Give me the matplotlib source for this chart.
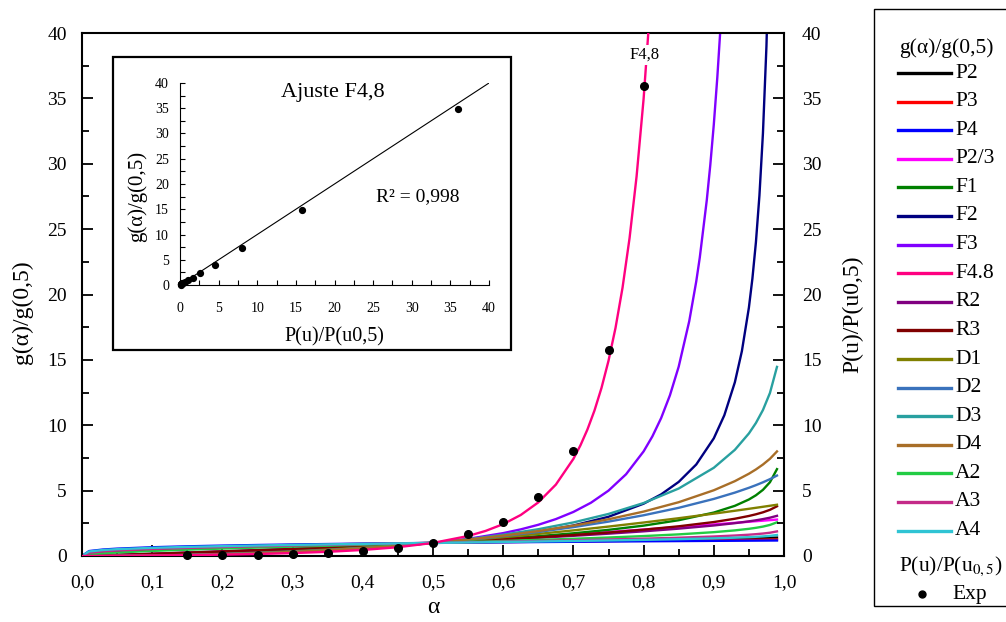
import matplotlib
matplotlib.use("Agg")
import matplotlib.pyplot as plt
from matplotlib.patches import Rectangle
from matplotlib.ticker import MultipleLocator, FixedLocator, FixedFormatter

plt.rcParams['font.family'] = ['Liberation Serif', 'DejaVu Serif']
plt.rcParams['mathtext.fontset'] = 'stix'

# ---------------- data ----------------
alpha = [0.0, 0.01, 0.03, 0.05, 0.1, 0.15, 0.2, 0.25, 0.3, 0.35, 0.4, 0.45, 0.5,
         0.55, 0.6, 0.65, 0.7, 0.75, 0.8, 0.85, 0.9, 0.93, 0.95, 0.96, 0.97, 0.98, 0.99]

P2 = [0, 0.141, 0.245, 0.316, 0.447, 0.548, 0.632, 0.707, 0.775, 0.837, 0.894, 0.949, 1.0,
      1.049, 1.095, 1.140, 1.183, 1.225, 1.265, 1.304, 1.342, 1.364, 1.378, 1.386, 1.393, 1.400, 1.407]
P3 = [0, 0.271, 0.391, 0.464, 0.585, 0.669, 0.737, 0.794, 0.843, 0.888, 0.928, 0.965, 1.0,
      1.032, 1.063, 1.091, 1.119, 1.145, 1.170, 1.193, 1.216, 1.230, 1.239, 1.243, 1.247, 1.252, 1.256]
P4 = [0, 0.376, 0.495, 0.562, 0.669, 0.740, 0.795, 0.841, 0.880, 0.915, 0.946, 0.974, 1.0,
      1.024, 1.046, 1.068, 1.088, 1.107, 1.125, 1.142, 1.158, 1.168, 1.174, 1.177, 1.180, 1.183, 1.186]
P23 = [0, 0.003, 0.015, 0.032, 0.089, 0.164, 0.253, 0.354, 0.465, 0.586, 0.716, 0.854, 1.0,
       1.154, 1.315, 1.482, 1.657, 1.837, 2.024, 2.217, 2.415, 2.537, 2.618, 2.660, 2.701, 2.744, 2.786]
F1 = [0, 0.0145, 0.044, 0.074, 0.152, 0.234, 0.322, 0.415, 0.515, 0.621, 0.737, 0.862, 1.0,
      1.152, 1.322, 1.515, 1.737, 2.0, 2.322, 2.737, 3.322, 3.837, 4.322, 4.644, 5.059, 5.644, 6.644]
R2 = [0, 0.017, 0.052, 0.087, 0.175, 0.267, 0.361, 0.457, 0.558, 0.662, 0.770, 0.882, 1.0,
      1.124, 1.255, 1.394, 1.544, 1.707, 1.887, 2.092, 2.335, 2.511, 2.651, 2.731, 2.823, 2.931, 3.073]
R3 = [0, 0.016, 0.049, 0.082, 0.167, 0.256, 0.348, 0.443, 0.543, 0.648, 0.759, 0.876, 1.0,
      1.133, 1.276, 1.431, 1.602, 1.794, 2.013, 2.272, 2.597, 2.850, 3.062, 3.190, 3.341, 3.532, 3.803]
D1 = [0, 0.0004, 0.0036, 0.01, 0.04, 0.09, 0.16, 0.25, 0.36, 0.49, 0.64, 0.81, 1.0,
      1.21, 1.44, 1.69, 1.96, 2.25, 2.56, 2.89, 3.24, 3.46, 3.61, 3.686, 3.764, 3.842, 3.920]
D2 = [0, 0.0003, 0.003, 0.008, 0.034, 0.077, 0.140, 0.223, 0.328, 0.456, 0.610, 0.790, 1.0,
      1.243, 1.522, 1.842, 2.208, 2.630, 3.116, 3.685, 4.365, 4.848, 5.216, 5.418, 5.637, 5.878, 6.153]
D3 = [0, 0.0003, 0.0024, 0.0068, 0.028, 0.065, 0.121, 0.196, 0.295, 0.420, 0.576, 0.767, 1.0,
      1.283, 1.628, 2.049, 2.568, 3.217, 4.051, 5.161, 6.747, 8.120, 9.373, 10.174, 11.164, 12.472, 14.463]
D4 = [0, 0.0003, 0.0028, 0.0077, 0.032, 0.073, 0.133, 0.214, 0.317, 0.444, 0.598, 0.782, 1.0,
      1.256, 1.556, 1.908, 2.321, 2.810, 3.397, 4.114, 5.028, 5.725, 6.292, 6.621, 6.996, 7.437, 7.998]
A2 = [0, 0.120, 0.210, 0.272, 0.390, 0.484, 0.567, 0.644, 0.718, 0.788, 0.859, 0.929, 1.0,
      1.073, 1.150, 1.231, 1.318, 1.414, 1.524, 1.654, 1.823, 1.959, 2.079, 2.155, 2.249, 2.376, 2.578]
A3 = [0, 0.244, 0.353, 0.420, 0.534, 0.617, 0.685, 0.746, 0.801, 0.853, 0.903, 0.952, 1.0,
      1.048, 1.098, 1.149, 1.202, 1.260, 1.324, 1.399, 1.492, 1.566, 1.629, 1.669, 1.717, 1.781, 1.880]
A4 = [0, 0.347, 0.458, 0.522, 0.624, 0.696, 0.753, 0.803, 0.847, 0.888, 0.927, 0.964, 1.0,
      1.036, 1.072, 1.110, 1.148, 1.189, 1.234, 1.286, 1.350, 1.400, 1.442, 1.468, 1.500, 1.541, 1.606]

alpha_F2 = [0, 0.05, 0.1, 0.15, 0.2, 0.25, 0.3, 0.35, 0.4, 0.45, 0.5, 0.55, 0.6, 0.65, 0.7, 0.75,
            0.8, 0.825, 0.85, 0.875, 0.9, 0.915, 0.93, 0.94, 0.95, 0.955, 0.96, 0.965, 0.97, 0.975, 0.98]
F2 = [0, 0.053, 0.111, 0.176, 0.25, 0.333, 0.429, 0.538, 0.667, 0.818, 1.0, 1.222, 1.5, 1.857, 2.333,
      3.0, 4.0, 4.714, 5.667, 7.0, 9.0, 10.765, 13.286, 15.667, 19.0, 21.222, 24.0, 27.571, 32.333,
      39.0, 49.0]

alpha_F3 = [0, 0.05, 0.1, 0.15, 0.2, 0.25, 0.3, 0.35, 0.4, 0.45, 0.5, 0.55, 0.6, 0.625, 0.65, 0.675,
            0.7, 0.725, 0.75, 0.775, 0.8, 0.8125, 0.825, 0.8375, 0.85, 0.865, 0.875, 0.88, 0.89, 0.895,
            0.9, 0.905, 0.91, 0.915]
F3 = [0, 0.036, 0.078, 0.128, 0.188, 0.259, 0.347, 0.456, 0.593, 0.769, 1.0, 1.313, 1.75, 2.037,
      2.388, 2.822, 3.370, 4.074, 5.0, 6.251, 8.0, 9.148, 10.551, 12.290, 14.481, 17.957, 21.0,
      22.815, 27.215, 29.901, 33.0, 36.601, 40.819, 45.803]

alpha_F48 = [0, 0.05, 0.1, 0.15, 0.2, 0.25, 0.3, 0.35, 0.4, 0.45, 0.5, 0.55, 0.575, 0.6, 0.625, 0.65,
             0.675, 0.7, 0.71, 0.72, 0.73, 0.74, 0.75, 0.76, 0.77, 0.78, 0.79, 0.8, 0.81]
F48 = [0, 0.017, 0.038, 0.066, 0.103, 0.153, 0.223, 0.320, 0.462, 0.673, 1.0, 1.530, 1.920, 2.438,
       3.137, 4.101, 5.460, 7.428, 8.460, 9.678, 11.123, 12.851, 14.929, 17.447, 20.523, 24.314,
       29.030, 34.960, 42.499]

alpha_exp = [0.15, 0.2, 0.25, 0.3, 0.35, 0.4, 0.45, 0.5, 0.55, 0.6, 0.65, 0.7, 0.75, 0.8]
exp_vals = [0.10, 0.10, 0.11, 0.15, 0.23, 0.38, 0.62, 1.0, 1.70, 2.63, 4.50, 8.05, 15.75, 35.95]

# inset: P(u)/P(u0,5) (x) vs g(alpha)/g(0,5) for F4,8 (y)
inset_x = exp_vals
inset_y = [0.07, 0.10, 0.15, 0.22, 0.32, 0.46, 0.67, 1.0, 1.45, 2.35, 4.0, 7.25, 14.85, 34.85]
fit_slope = 1.0
fit_intercept = 0.0
fit_range = [0, 40]

x_ticks = [0.0, 0.1, 0.2, 0.3, 0.4, 0.5, 0.6, 0.7, 0.8, 0.9, 1.0]
x_tick_labels = ["0,0", "0,1", "0,2", "0,3", "0,4", "0,5", "0,6", "0,7", "0,8", "0,9", "1,0"]

series = [
    ("P2", alpha, P2, "#000000"),
    ("P3", alpha, P3, "#ff0000"),
    ("P4", alpha, P4, "#0000ff"),
    ("P2/3", alpha, P23, "#ff00ff"),
    ("F1", alpha, F1, "#008000"),
    ("F2", alpha_F2, F2, "#000080"),
    ("F3", alpha_F3, F3, "#8000ff"),
    ("F4.8", alpha_F48, F48, "#ff0080"),
    ("R2", alpha, R2, "#800080"),
    ("R3", alpha, R3, "#800000"),
    ("D1", alpha, D1, "#808000"),
    ("D2", alpha, D2, "#3a72bc"),
    ("D3", alpha, D3, "#28a0a0"),
    ("D4", alpha, D4, "#a86e28"),
    ("A2", alpha, A2, "#22cc44"),
    ("A3", alpha, A3, "#c42a88"),
    ("A4", alpha, A4, "#30c4d4"),
]

# ---------------- figure ----------------
W, H = 1006, 622
fig = plt.figure(figsize=(W / 100, H / 100), dpi=100)

ax = fig.add_axes([82 / W, 1 - 556 / H, (784 - 82) / W, (556 - 33) / H], zorder=1)
for name, xs, ys, col in series:
    z = 3 if name == "F4.8" else 2
    ax.plot(xs, ys, color=col, lw=1.7, zorder=z, solid_joinstyle='round')
ax.plot(alpha_exp, exp_vals, 'o', color='black', ms=5.5, zorder=5, clip_on=False)

ax.set_xlim(0, 1)
ax.set_ylim(0, 40)
ax.xaxis.set_major_locator(FixedLocator(x_ticks))
ax.xaxis.set_major_formatter(FixedFormatter(x_tick_labels))
ax.xaxis.set_minor_locator(MultipleLocator(0.05))
ax.yaxis.set_major_locator(MultipleLocator(5))
ax.yaxis.set_minor_locator(MultipleLocator(2.5))
ax.tick_params(which='both', direction='in', top=False, right=False,
               width=1.3, labelsize=14, colors='black')
ax.tick_params(which='major', length=8)
ax.tick_params(which='minor', length=5)
ax.tick_params(axis='y', pad=11)
ax.tick_params(axis='x', pad=13)
for sp in ax.spines.values():
    sp.set_linewidth(1.5)
ax.set_xlabel("α", fontsize=17, labelpad=4)
ax.set_ylabel("g(α)/g(0,5)", fontsize=17)
ax.yaxis.set_label_coords(-0.07, 0.4665)

ax2 = ax.twinx()
ax2.set_ylim(0, 40)
ax2.yaxis.set_major_locator(MultipleLocator(5))
ax2.yaxis.set_minor_locator(MultipleLocator(2.5))
ax2.tick_params(which='both', direction='in', width=1.3, labelsize=14, pad=13)
ax2.tick_params(which='major', length=8)
ax2.tick_params(which='minor', length=5)
for sp in ax2.spines.values():
    sp.set_visible(False)
ax2.set_ylabel("P(u)/P(u0,5)", fontsize=17)
ax2.yaxis.set_label_coords(1.083, 0.463)

ax.text(0.802, 38.35, "F4,8", ha='center', va='center', fontsize=12, zorder=6,
        bbox=dict(fc='white', ec='none', pad=1.5))

# overlay in pixel coordinates for boxes / legend
ov = fig.add_axes([0, 0, 1, 1], zorder=2)
ov.set_xlim(0, W)
ov.set_ylim(H, 0)
ov.axis('off')
ov.patch.set_alpha(0)
ov.add_patch(Rectangle((113, 57), 511 - 113, 350 - 57, fc='white', ec='black', lw=1.6))
ov.add_patch(Rectangle((874, 9), 140, 606 - 9, fc='white', ec='black', lw=1.0, clip_on=False))

# legend
leg_fs = 15.5
ov.text(899, 48, "g(α)/g(0,5)", fontsize=leg_fs, va='center', ha='left')
y0, dy = 73, 28.6
for i, (name, xs, ys, col) in enumerate(series):
    y = y0 + i * dy
    ov.plot([898, 951], [y, y], color=col, lw=2.4)
    ov.text(955, y, name, fontsize=leg_fs, va='center', ha='left')
ov.text(899, 566, r"P(u)/P(u$_{0,5}$)", fontsize=leg_fs, va='center', ha='left')
ov.plot([922], [594], 'o', color='black', ms=5)
ov.text(952, 594, "Exp", fontsize=leg_fs, va='center', ha='left')

# inset
ins = fig.add_axes([180 / W, 1 - 285 / H, (489 - 180) / W, (285 - 83) / H], zorder=3)
ins.patch.set_alpha(0)
fx = fit_range
fy = [fit_slope * v + fit_intercept for v in fit_range]
ins.plot(fx, fy, color='black', lw=0.8)
ins.plot(inset_x, inset_y, 'o', color='black', ms=4.2, clip_on=False, zorder=4)
ins.set_xlim(0, 40)
ins.set_ylim(0, 40)
for s in ("top", "right"):
    ins.spines[s].set_visible(False)
for s in ("left", "bottom"):
    ins.spines[s].set_linewidth(0.8)
ins.xaxis.set_major_locator(MultipleLocator(5))
ins.yaxis.set_major_locator(MultipleLocator(5))
ins.xaxis.set_minor_locator(MultipleLocator(2.5))
ins.yaxis.set_minor_locator(MultipleLocator(2.5))
ins.tick_params(which='both', direction='in', length=3.5, width=0.8, labelsize=10)
ins.tick_params(axis='y', pad=8)
ins.tick_params(axis='x', pad=12)
ins.set_ylabel("g(α)/g(0,5)", fontsize=15)
ins.yaxis.set_label_coords(-0.107, 0.436)
ins.set_xlabel("P(u)/P(u0,5)", fontsize=14.5, labelpad=9)
ins.text(0.495, 0.955, "Ajuste F4,8", transform=ins.transAxes, ha='center', va='center', fontsize=16)
ins.text(0.77, 0.436, "R² = 0,998", transform=ins.transAxes, ha='center', va='center', fontsize=14)

fig.savefig("out.png", dpi=100)
